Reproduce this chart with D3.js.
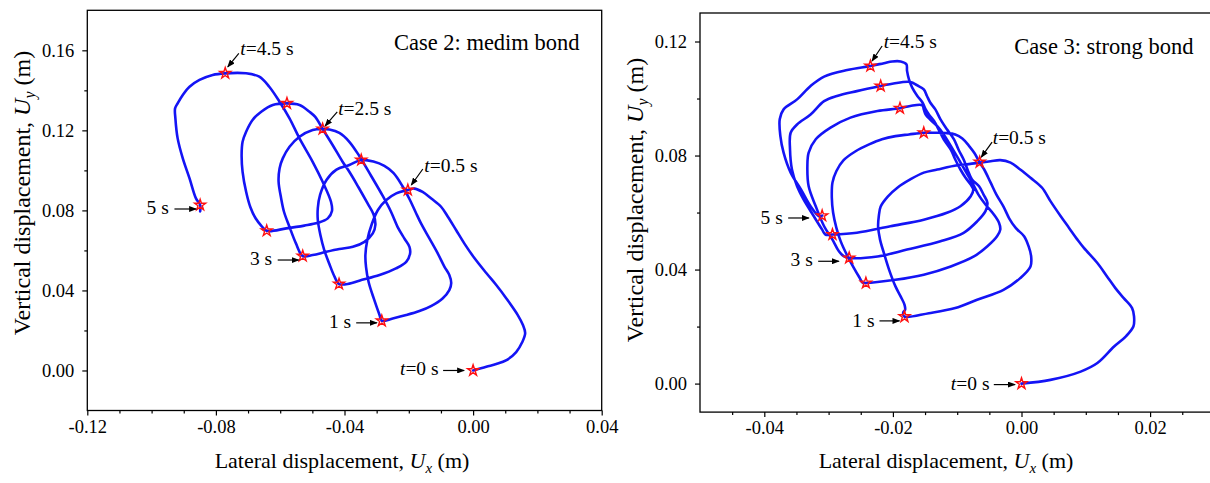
<!DOCTYPE html>
<html>
<head>
<meta charset="utf-8">
<script src="https://cdn.jsdelivr.net/npm/d3@7"></script>
<style>
  body { margin: 0; background: #fff; }
  svg { display: block; font-family: "Liberation Serif", "Times New Roman", serif; }
  svg text { font-family: "Liberation Serif", "Times New Roman", serif; }
</style>
</head>
<body>
<div id="chart"></div>
<script>
// Trajectories [Ux, Uy] in metres
const case2Path = [
  [0,0],[0.0041,0.0019],[0.0072,0.0032],[0.0104,0.0052],[0.0134,0.0092],[0.0153,0.0142],[0.0162,0.0187],[0.0155,0.0227],
  [0.0139,0.0277],[0.0104,0.0359],[0.0072,0.0427],[0.0041,0.0487],[0.0004,0.0562],[-0.0027,0.0634],[-0.0053,0.0702],
  [-0.0078,0.0767],[-0.0099,0.0817],[-0.0130,0.0859],[-0.0157,0.0892],[-0.0183,0.0909],[-0.0203,0.0902],
  [-0.0239,0.0885],[-0.0270,0.0852],[-0.0296,0.0802],[-0.0315,0.0732],[-0.0329,0.0652],[-0.0335,0.0577],[-0.0333,0.0517],
  [-0.0325,0.0442],[-0.0309,0.0360],[-0.0291,0.0277],[-0.0284,0.0248],
  [-0.0250,0.0260],[-0.0208,0.0277],[-0.0167,0.0297],[-0.0131,0.0322],[-0.0095,0.0360],[-0.0074,0.0402],[-0.0068,0.0437],
  [-0.0074,0.0477],[-0.0089,0.0518],[-0.0110,0.0585],[-0.0136,0.0660],[-0.0162,0.0735],[-0.0179,0.0792],[-0.0198,0.0857],
  [-0.0220,0.0922],[-0.0248,0.0987],[-0.0276,0.1022],[-0.0310,0.1044],[-0.0348,0.1052],
  [-0.0385,0.1027],[-0.0425,0.1004],[-0.0456,0.0952],[-0.0476,0.0877],[-0.0483,0.0812],[-0.0483,0.0752],[-0.0475,0.0677],
  [-0.0463,0.0602],[-0.0447,0.0532],[-0.0431,0.0469],[-0.0417,0.0432],
  [-0.0385,0.0434],[-0.0354,0.0449],[-0.0291,0.0477],[-0.0240,0.0510],[-0.0208,0.0543],[-0.0196,0.0585],[-0.0198,0.0618],
  [-0.0214,0.0660],[-0.0235,0.0718],[-0.0255,0.0792],[-0.0281,0.0872],[-0.0317,0.0972],[-0.0354,0.1072],[-0.0385,0.1143],
  [-0.0416,0.1187],[-0.0447,0.1204],[-0.0468,0.1207],
  [-0.0499,0.1202],[-0.0540,0.1168],[-0.0571,0.1118],[-0.0592,0.1060],[-0.0602,0.1010],[-0.0605,0.0943],[-0.0597,0.0860],
  [-0.0588,0.0792],[-0.0571,0.0717],[-0.0551,0.0635],[-0.0530,0.0572],
  [-0.0499,0.0577],[-0.0457,0.0593],[-0.0416,0.0607],[-0.0374,0.0618],[-0.0338,0.0643],[-0.0312,0.0685],[-0.0304,0.0727],
  [-0.0309,0.0777],[-0.0329,0.0837],[-0.0357,0.0917],[-0.0385,0.0993],[-0.0406,0.1043],[-0.0437,0.1127],[-0.0468,0.1207],
  [-0.0491,0.1267],[-0.0509,0.1293],[-0.0540,0.1327],[-0.0579,0.1335],
  [-0.0623,0.1327],[-0.0659,0.1293],[-0.0686,0.1252],[-0.0706,0.1193],[-0.0717,0.1143],[-0.0720,0.1077],[-0.0717,0.0993],
  [-0.0706,0.0893],[-0.0693,0.0817],[-0.0677,0.0762],[-0.0658,0.0722],[-0.0642,0.0698],
  [-0.0581,0.0710],[-0.0525,0.0724],[-0.0483,0.0738],[-0.0452,0.0760],[-0.0439,0.0797],[-0.0442,0.0843],[-0.0468,0.0943],
  [-0.0499,0.1043],[-0.0540,0.1160],[-0.0571,0.1260],[-0.0602,0.1343],[-0.0634,0.1418],[-0.0665,0.1468],[-0.0706,0.1485],
  [-0.0771,0.1485],
  [-0.0810,0.1477],[-0.0851,0.1452],[-0.0882,0.1418],[-0.0903,0.1377],[-0.0919,0.1335],[-0.0927,0.1310],[-0.0926,0.1260],
  [-0.0919,0.1160],[-0.0903,0.1060],[-0.0882,0.0960],[-0.0862,0.0860],[-0.0849,0.0827],[-0.0849,0.0795]
];

const case3Path = [
  [0,0],[0.0045,0.0013],[0.0092,0.0042],[0.0118,0.0072],[0.0144,0.0130],[0.0162,0.0165],[0.0174,0.0200],[0.0175,0.0236],
  [0.0172,0.0265],[0.0159,0.0300],[0.0146,0.0335],[0.0133,0.0376],[0.0118,0.0423],[0.0097,0.0476],[0.0087,0.0505],
  [0.0074,0.0546],[0.0061,0.0587],[0.0045,0.0640],[0.0032,0.0687],[0.0014,0.0722],[-0.0002,0.0751],[-0.0017,0.0775],
  [-0.0033,0.0784],[-0.0048,0.0780],[-0.0065,0.0775],
  [-0.0082,0.0770],[-0.0100,0.0766],[-0.0131,0.0751],[-0.0152,0.0740],[-0.0173,0.0716],[-0.0193,0.0687],[-0.0208,0.0656],
  [-0.0219,0.0621],[-0.0222,0.0586],[-0.0223,0.0551],[-0.0220,0.0505],[-0.0214,0.0458],[-0.0206,0.0400],[-0.0196,0.0341],
  [-0.0188,0.0306],[-0.0182,0.0277],[-0.0181,0.0259],[-0.0184,0.0249],[-0.0182,0.0235],
  [-0.0144,0.0247],[-0.0103,0.0265],[-0.0069,0.0294],[-0.0028,0.0329],[-0.0002,0.0370],[0.0014,0.0411],[0.0015,0.0446],
  [0.0011,0.0482],[0.0004,0.0517],[-0.0009,0.0546],[-0.0019,0.0579],[-0.0028,0.0621],[-0.0039,0.0663],[-0.0048,0.0705],
  [-0.0058,0.0751],[-0.0065,0.0775],[-0.0073,0.0808],[-0.0082,0.0835],[-0.0092,0.0860],[-0.0103,0.0874],[-0.0118,0.0879],
  [-0.0134,0.0880],[-0.0152,0.0880],
  [-0.0175,0.0874],[-0.0196,0.0868],[-0.0217,0.0857],[-0.0237,0.0839],[-0.0258,0.0815],[-0.0277,0.0783],[-0.0288,0.0745],
  [-0.0294,0.0705],[-0.0295,0.0653],[-0.0293,0.0600],[-0.0288,0.0547],[-0.0281,0.0498],[-0.0271,0.0449],[-0.0261,0.0407],
  [-0.0252,0.0372],[-0.0247,0.0354],[-0.0242,0.0353],
  [-0.0196,0.0364],[-0.0152,0.0382],[-0.0110,0.0411],[-0.0074,0.0446],[-0.0053,0.0482],[-0.0038,0.0517],[-0.0033,0.0540],
  [-0.0035,0.0564],[-0.0043,0.0593],[-0.0056,0.0628],[-0.0067,0.0663],[-0.0076,0.0702],[-0.0086,0.0741],[-0.0095,0.0776],
  [-0.0104,0.0811],[-0.0113,0.0845],[-0.0121,0.0874],[-0.0131,0.0903],[-0.0142,0.0926],[-0.0149,0.0944],[-0.0152,0.0962],
  [-0.0154,0.0976],[-0.0173,0.0974],[-0.0189,0.0966],
  [-0.0224,0.0956],[-0.0266,0.0933],[-0.0297,0.0898],[-0.0320,0.0857],[-0.0331,0.0810],[-0.0333,0.0763],[-0.0331,0.0692],
  [-0.0320,0.0622],[-0.0307,0.0552],[-0.0294,0.0505],[-0.0284,0.0464],[-0.0276,0.0446],[-0.0268,0.0441],
  [-0.0224,0.0446],[-0.0178,0.0470],[-0.0126,0.0499],[-0.0090,0.0529],[-0.0069,0.0569],[-0.0056,0.0605],[-0.0053,0.0634],
  [-0.0059,0.0663],[-0.0066,0.0692],[-0.0077,0.0716],[-0.0084,0.0751],[-0.0090,0.0786],[-0.0098,0.0821],[-0.0105,0.0857],
  [-0.0116,0.0892],[-0.0126,0.0927],[-0.0134,0.0962],[-0.0142,0.0986],[-0.0147,0.1009],[-0.0152,0.1032],[-0.0162,0.1046],
  [-0.0173,0.1058],[-0.0199,0.1053],[-0.0219,0.1044],
  [-0.0256,0.1026],[-0.0287,0.1009],[-0.0307,0.0991],[-0.0328,0.0944],[-0.0349,0.0909],[-0.0359,0.0880],[-0.0360,0.0821],
  [-0.0357,0.0751],[-0.0349,0.0692],[-0.0339,0.0646],[-0.0323,0.0587],[-0.0310,0.0540],[-0.0305,0.0523],[-0.0294,0.0523],
  [-0.0256,0.0529],[-0.0204,0.0552],[-0.0152,0.0575],[-0.0116,0.0599],[-0.0095,0.0622],[-0.0079,0.0657],[-0.0075,0.0681],
  [-0.0079,0.0698],[-0.0087,0.0722],[-0.0095,0.0751],[-0.0103,0.0786],[-0.0110,0.0821],[-0.0121,0.0857],[-0.0129,0.0892],
  [-0.0136,0.0921],[-0.0144,0.0944],[-0.0149,0.0962],[-0.0154,0.0986],[-0.0162,0.1009],[-0.0170,0.1038],[-0.0175,0.1067],
  [-0.0178,0.1097],[-0.0179,0.1120],[-0.0188,0.1130],[-0.0201,0.1130],[-0.0214,0.1124],[-0.0235,0.1114],
  [-0.0271,0.1100],[-0.0307,0.1077],[-0.0328,0.1044],[-0.0349,0.0997],[-0.0370,0.0962],[-0.0376,0.0927],[-0.0375,0.0868],
  [-0.0370,0.0810],[-0.0359,0.0740],[-0.0343,0.0681],[-0.0328,0.0622],[-0.0315,0.0587],[-0.0310,0.0589]
];

// star markers every 0.5 s (t = 0 ... 5 s)
const starTimes = [0, 0.5, 1, 1.5, 2, 2.5, 3, 3.5, 4, 4.5, 5];
const case2Stars = [[0,0],[-0.0203,0.0902],[-0.0284,0.0248],[-0.0348,0.1052],[-0.0417,0.0432],[-0.0468,0.1207],
  [-0.0530,0.0572],[-0.0579,0.1335],[-0.0642,0.0698],[-0.0771,0.1485],[-0.0849,0.0827]];
const case3Stars = [[0,0],[-0.0065,0.0777],[-0.0182,0.0235],[-0.0152,0.0880],[-0.0242,0.0353],[-0.0189,0.0966],
  [-0.0268,0.0441],[-0.0219,0.1044],[-0.0294,0.0523],[-0.0235,0.1114],[-0.0310,0.0589]];

// labelled time marks (index into starTimes)
const case2LabelIdx = [0, 1, 2, 5, 6, 9, 10];
const case3LabelIdx = [0, 1, 2, 6, 9, 10];

// axes
const case2XDomain = [-0.12, 0.04], case2YDomain = [-0.02, 0.18];
const case2XTicks = [-0.12, -0.08, -0.04, 0, 0.04];
const case2XMinor = [-0.11, -0.10, -0.09, -0.07, -0.06, -0.05, -0.03, -0.02, -0.01, 0.01, 0.02, 0.03];
const case2YTicks = [0, 0.04, 0.08, 0.12, 0.16];
const case2YMinor = [0.02, 0.06, 0.10, 0.14];
const case3XDomain = [-0.05, 0.03], case3YDomain = [-0.01, 0.13];
const case3XTicks = [-0.04, -0.02, 0, 0.02];
const case3XMinor = [-0.045, -0.035, -0.03, -0.025, -0.015, -0.01, -0.005, 0.005, 0.01, 0.015, 0.025];
const case3YTicks = [0, 0.04, 0.08, 0.12];
const case3YMinor = [0.02, 0.06, 0.10];

const W = 1210, H = 483;
const svg = d3.select("#chart").append("svg").attr("width", W).attr("height", H);
svg.append("rect").attr("width", W).attr("height", H).attr("fill", "#fff");

svg.append("defs").append("marker")
  .attr("id", "arrow").attr("markerUnits", "userSpaceOnUse")
  .attr("markerWidth", 8).attr("markerHeight", 6).attr("refX", 7).attr("refY", 3)
  .attr("orient", "auto")
  .append("path").attr("d", "M0,0 L8,3 L0,6 Z").attr("fill", "#000");

const fmt = d => d.toFixed(2);

function timeLabel(g, t, x, y, anchor) {
  const txt = g.append("text").attr("x", x).attr("y", y)
    .attr("text-anchor", anchor).attr("font-size", 19.5).attr("fill", "#000");
  if (t === 0 || t === 0.5 || t === 2.5 || t === 4.5) {
    txt.append("tspan").attr("font-style", "italic").text("t");
    txt.append("tspan").text("=" + t + " s");
  } else {
    txt.text(t + " s");
  }
}

function drawPanel(o) {
  const x = d3.scaleLinear().domain(o.xDomain).range([o.left, o.right]);
  const y = d3.scaleLinear().domain(o.yDomain).range([o.bottom, o.top]);
  const g = svg.append("g");

  // ticks
  g.append("g").attr("transform", `translate(0,${o.bottom})`)
    .call(d3.axisBottom(x).tickValues(o.xTicks).tickSize(5).tickPadding(4).tickFormat(fmt));
  g.append("g").attr("transform", `translate(0,${o.bottom})`)
    .call(d3.axisBottom(x).tickValues(o.xMinor).tickSize(3).tickFormat(""));
  g.append("g").attr("transform", `translate(${o.left},0)`)
    .call(d3.axisLeft(y).tickValues(o.yTicks).tickSize(5).tickPadding(8).tickFormat(fmt));
  g.append("g").attr("transform", `translate(${o.left},0)`)
    .call(d3.axisLeft(y).tickValues(o.yMinor).tickSize(3).tickFormat(""));
  g.selectAll(".domain").remove();
  g.selectAll(".tick").each(function () { d3.select(this.parentNode).attr("font-family", null).attr("font-size", null); });
  g.selectAll(".tick line").attr("stroke", "#000").attr("stroke-width", 1.2);
  g.selectAll(".tick text").attr("font-size", 18.5).attr("fill", "#000");

  // frame
  g.append("rect").attr("x", o.left).attr("y", o.top)
    .attr("width", o.right - o.left).attr("height", o.bottom - o.top)
    .attr("fill", "none").attr("stroke", "#000").attr("stroke-width", 1.3);

  // trajectory
  const line = d3.line().x(d => x(d[0])).y(d => y(d[1])).curve(d3.curveCatmullRom.alpha(0.5));
  g.append("path").datum(o.path).attr("d", line)
    .attr("fill", "none").attr("stroke", "#1414f5").attr("stroke-width", 2.6)
    .attr("stroke-linejoin", "round").attr("stroke-linecap", "round");

  // star markers
  const star = d3.symbol(d3.symbolStar, 38);
  g.selectAll(".star").data(o.stars).join("path")
    .attr("transform", d => `translate(${x(d[0])},${y(d[1])})`)
    .attr("d", star).attr("fill", "none").attr("stroke", "#ff1010").attr("stroke-width", 1.4);

  // time annotations with arrows
  o.labelIdx.forEach((idx, k) => {
    const L = o.layout[k];
    const sx = x(o.stars[idx][0]), sy = y(o.stars[idx][1]);
    g.append("line")
      .attr("x1", sx + L.a[0]).attr("y1", sy + L.a[1])
      .attr("x2", sx + L.b[0]).attr("y2", sy + L.b[1])
      .attr("stroke", "#000").attr("stroke-width", 1.2).attr("marker-end", "url(#arrow)");
    timeLabel(g, starTimes[idx], sx + L.t[0], sy + L.t[1], L.anchor);
  });

  // case title
  g.append("text").attr("x", o.titleX).attr("y", o.titleY).attr("font-size", 22.5)
    .attr("text-anchor", "end").text(o.title);

  // axis titles
  const xt = g.append("text").attr("x", o.xTitleX).attr("y", 467.5)
    .attr("text-anchor", "middle").attr("font-size", 22);
  xt.append("tspan").text("Lateral displacement, ");
  xt.append("tspan").attr("font-style", "italic").text("U");
  xt.append("tspan").attr("font-style", "italic").attr("font-size", 15).attr("dy", 5).text("x");
  xt.append("tspan").attr("dy", -5).text(" (m)");

  const yt = g.append("text").attr("transform", `translate(${o.yTitleX},${o.yTitleY}) rotate(-90)`)
    .attr("text-anchor", "middle").attr("font-size", 24);
  yt.append("tspan").text("Vertical displacement, ");
  yt.append("tspan").attr("font-style", "italic").text("U");
  yt.append("tspan").attr("font-style", "italic").attr("font-size", 16).attr("dy", 5).text("y");
  yt.append("tspan").attr("dy", -5).text(" (m)");
}

drawPanel({
  left: 87.3, right: 601.7, top: 10.3, bottom: 410.5,
  xDomain: case2XDomain, yDomain: case2YDomain,
  xTicks: case2XTicks, xMinor: case2XMinor, yTicks: case2YTicks, yMinor: case2YMinor,
  path: case2Path, stars: case2Stars, labelIdx: case2LabelIdx,
  layout: [
    { a: [-30, 0], b: [-9, 0], t: [-34.5, 4.7], anchor: "end" },
    { a: [15, -21], b: [3.5, -5], t: [16.5, -18.3], anchor: "start" },
    { a: [-25.6, 2], b: [-5, 2], t: [-30.6, 7.6], anchor: "end" },
    { a: [14.6, -17], b: [2.5, -3], t: [15.5, -14], anchor: "start" },
    { a: [-25, 4], b: [-4, 4], t: [-30.6, 9], anchor: "end" },
    { a: [13.6, -20], b: [2.6, -6.5], t: [15, -18.3], anchor: "start" },
    { a: [-25.7, 4], b: [-4, 4], t: [-31.4, 9], anchor: "end" }
  ],
  title: "Case 2: medim bond", titleX: 579.5, titleY: 50,
  xTitleX: 342, yTitleX: 30, yTitleY: 193
});

drawPanel({
  left: 700, right: 1214.4, top: 13, bottom: 412.1,
  xDomain: case3XDomain, yDomain: case3YDomain,
  xTicks: case3XTicks, xMinor: case3XMinor, yTicks: case3YTicks, yMinor: case3YMinor,
  path: case3Path, stars: case3Stars, labelIdx: case3LabelIdx,
  layout: [
    { a: [-27.7, 1], b: [-6.5, 1], t: [-32, 6], anchor: "end" },
    { a: [12.4, -20], b: [1.6, -5], t: [13, -18.3], anchor: "start" },
    { a: [-25, 4.3], b: [-5, 4.3], t: [-30, 10], anchor: "end" },
    { a: [-31, 3.4], b: [-10.4, 3.4], t: [-36.4, 8.4], anchor: "end" },
    { a: [11.7, -20], b: [1.7, -5], t: [13.3, -18.4], anchor: "start" },
    { a: [-34, 2.3], b: [-13.4, 2.3], t: [-39.4, 8.3], anchor: "end" }
  ],
  title: "Case 3: strong bond", titleX: 1193.5, titleY: 54.3,
  xTitleX: 946, yTitleX: 643, yTitleY: 200
});
</script>
</body>
</html>
